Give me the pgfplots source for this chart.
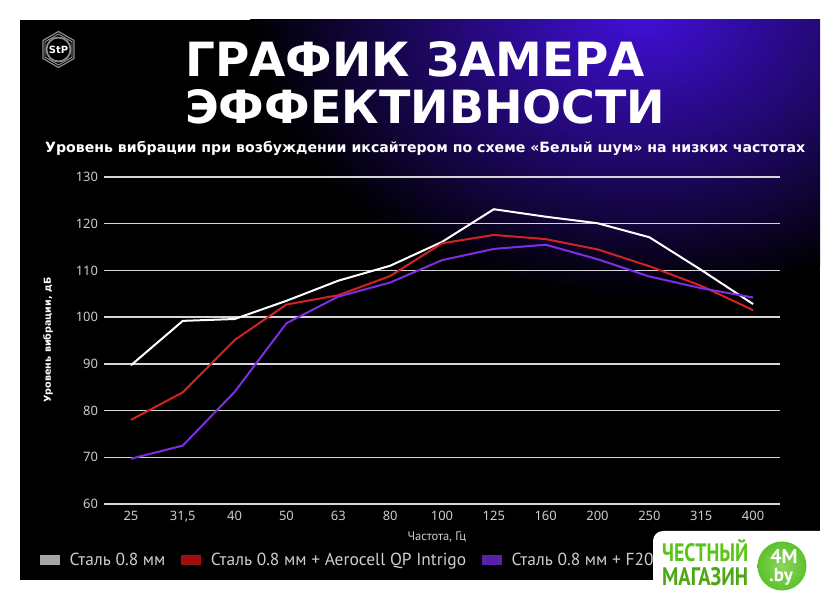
\documentclass[border=0pt]{standalone}
\usepackage{fontspec}
\setmainfont{Noto Sans}
\newfontfamily\ptsans{PT Sans}
\newfontfamily\dvs{DejaVu Sans}
\usepackage{graphicx}
\usepackage{pgfplots}
\pgfplotsset{compat=1.18}
\definecolor{gridc}{HTML}{D6D6D6}
\definecolor{tickc}{HTML}{CDCDCD}
\definecolor{redl}{HTML}{D42222}
\definecolor{purl}{HTML}{7B2FE0}
\definecolor{legg}{HTML}{A6A6A6}
\definecolor{legr}{HTML}{A01010}
\definecolor{legp}{HTML}{5A20A8}
\definecolor{glow}{RGB}{66,16,220}
\definecolor{wmgreen}{HTML}{5CC417}
\definecolor{wmcirc}{HTML}{5CC22C}
\begin{document}
\begin{tikzpicture}[x=1bp,y=1bp]
\useasboundingbox (0,0) rectangle (840,601);
\fill[white] (0,0) rectangle (840,601);
\fill[black] (20,21) rectangle (820,581);
\begin{scope}
\clip (20,21) rectangle (820,581);
\shade[inner color=glow, outer color=black] (640,592) ellipse [x radius=390, y radius=290];
\end{scope}
% logo
\begin{scope}[shift={(58.5,551.5)}]
\draw[gray!90, line width=1.2bp] (90:18)--(30:18)--(-30:18)--(-90:18)--(-150:18)--(150:18)--cycle;
\draw[gray!75, line width=0.8bp] (90:15.5)--(30:15.5)--(-30:15.5)--(-90:15.5)--(-150:15.5)--(150:15.5)--cycle;
\draw[gray!90, line width=1.8bp] (0,0) circle (12);
\node[white, font=\dvs\bfseries\fontsize{10}{11}\selectfont, inner sep=0] at (0,0) {StP};
\end{scope}
% titles
\node[anchor=south west, inner sep=0, white] at (185,524) {\resizebox{460bp}{35bp}{\dvs\bfseries ГРАФИК ЗАМЕРА}};
\node[anchor=south west, inner sep=0, white] at (185,477) {\resizebox{480bp}{34bp}{\dvs\bfseries ЭФФЕКТИВНОСТИ}};
\node[anchor=base west, inner sep=0, white] at (45,448) {\resizebox{760bp}{!}{\dvs\bfseries Уровень вибрации при возбуждении иксайтером по схеме «Белый шум» на низких частотах}};
% axis labels
\node[rotate=90, white, inner sep=0] at (48,261) {\resizebox{125bp}{!}{\dvs\bfseries Уровень вибрации, дБ}};
\node[text=tickc, font=\ptsans\fontsize{12.5}{14}\selectfont] at (437,64) {Частота, Гц};
\begin{axis}[
  at={(104bp,97bp)}, anchor=south west,
  scale only axis, width=676bp, height=327bp,
  xmin=-0.52, xmax=12.52, ymin=60, ymax=130,
  ytick={60,70,...,130},
  xtick={0,...,12},
  xticklabels={25,{31,5},40,50,63,80,100,125,160,200,250,315,400},
  ymajorgrids, grid style={gridc, line width=1.3bp},
  axis line style={draw=none},
  major tick length=0,
  clip=false,
  tick label style={font=\fontsize{13}{15}\selectfont, text=tickc},
  /pgf/number format/assume math mode=true,
  yticklabel style={xshift=-2.5bp},
  xticklabel style={yshift=-4bp},
  legend columns=3,
  legend image code/.code={\fill[#1] (0bp,-5.5bp) rectangle (21bp,5.5bp);},
  legend style={at={(-0.0962,-0.1713)}, anchor=west, draw=none, fill=none,
     inner sep=0pt, text=tickc, font=\ptsans\fontsize{17.5}{20}\selectfont,
     /tikz/every odd column/.append style={column sep=7bp},
     /tikz/every even column/.append style={column sep=13bp}},
  legend cell align=left,
]
\addlegendimage{fill=legg}
\addlegendentry{Сталь 0.8 мм}
\addlegendimage{fill=legr}
\addlegendentry{Сталь 0.8 мм + Aerocell QP Intrigo}
\addlegendimage{fill=legp}
\addlegendentry{Сталь 0.8 мм + F2000}
\addplot[white, line width=2bp, forget plot] coordinates {(0,89.7)(1,99.2)(2,99.6)(3,103.5)(4,107.8)(5,111)(6,116.1)(7,123.1)(8,121.5)(9,120.1)(10,117.1)(11,110.1)(12,102.8)};
\addplot[redl, line width=2bp, forget plot] coordinates {(0,78)(1,83.9)(2,95.1)(3,102.7)(4,104.7)(5,108.8)(6,115.8)(7,117.6)(8,116.7)(9,114.5)(10,110.9)(11,106.7)(12,101.5)};
\addplot[purl, line width=2bp, forget plot] coordinates {(0,69.7)(1,72.5)(2,84)(3,98.7)(4,104.4)(5,107.4)(6,112.2)(7,114.6)(8,115.5)(9,112.4)(10,108.7)(11,106.2)(12,104.2)};
\end{axis}
% watermark
\fill[white, rounded corners=10bp] (653,-15) rectangle (855,70);
\node[anchor=south west, inner sep=0, text=wmgreen] at (662,39) {\resizebox{86bp}{22bp}{\ptsans\bfseries ЧЕСТНЫЙ}};
\node[anchor=south west, inner sep=0, text=wmgreen!85!black] at (662,15) {\resizebox{86bp}{18bp}{\ptsans\bfseries МАГАЗИН}};
\shade[inner color=wmgreen!70!white, outer color=wmcirc] (782,35) circle (24.5);
\node[white, inner sep=0, font=\ptsans\bfseries\fontsize{20}{21}\selectfont] at (784,45) {4M};
\node[white, inner sep=0, font=\ptsans\bfseries\fontsize{19}{20}\selectfont] at (781,24) {.by};
\end{tikzpicture}
\end{document}
